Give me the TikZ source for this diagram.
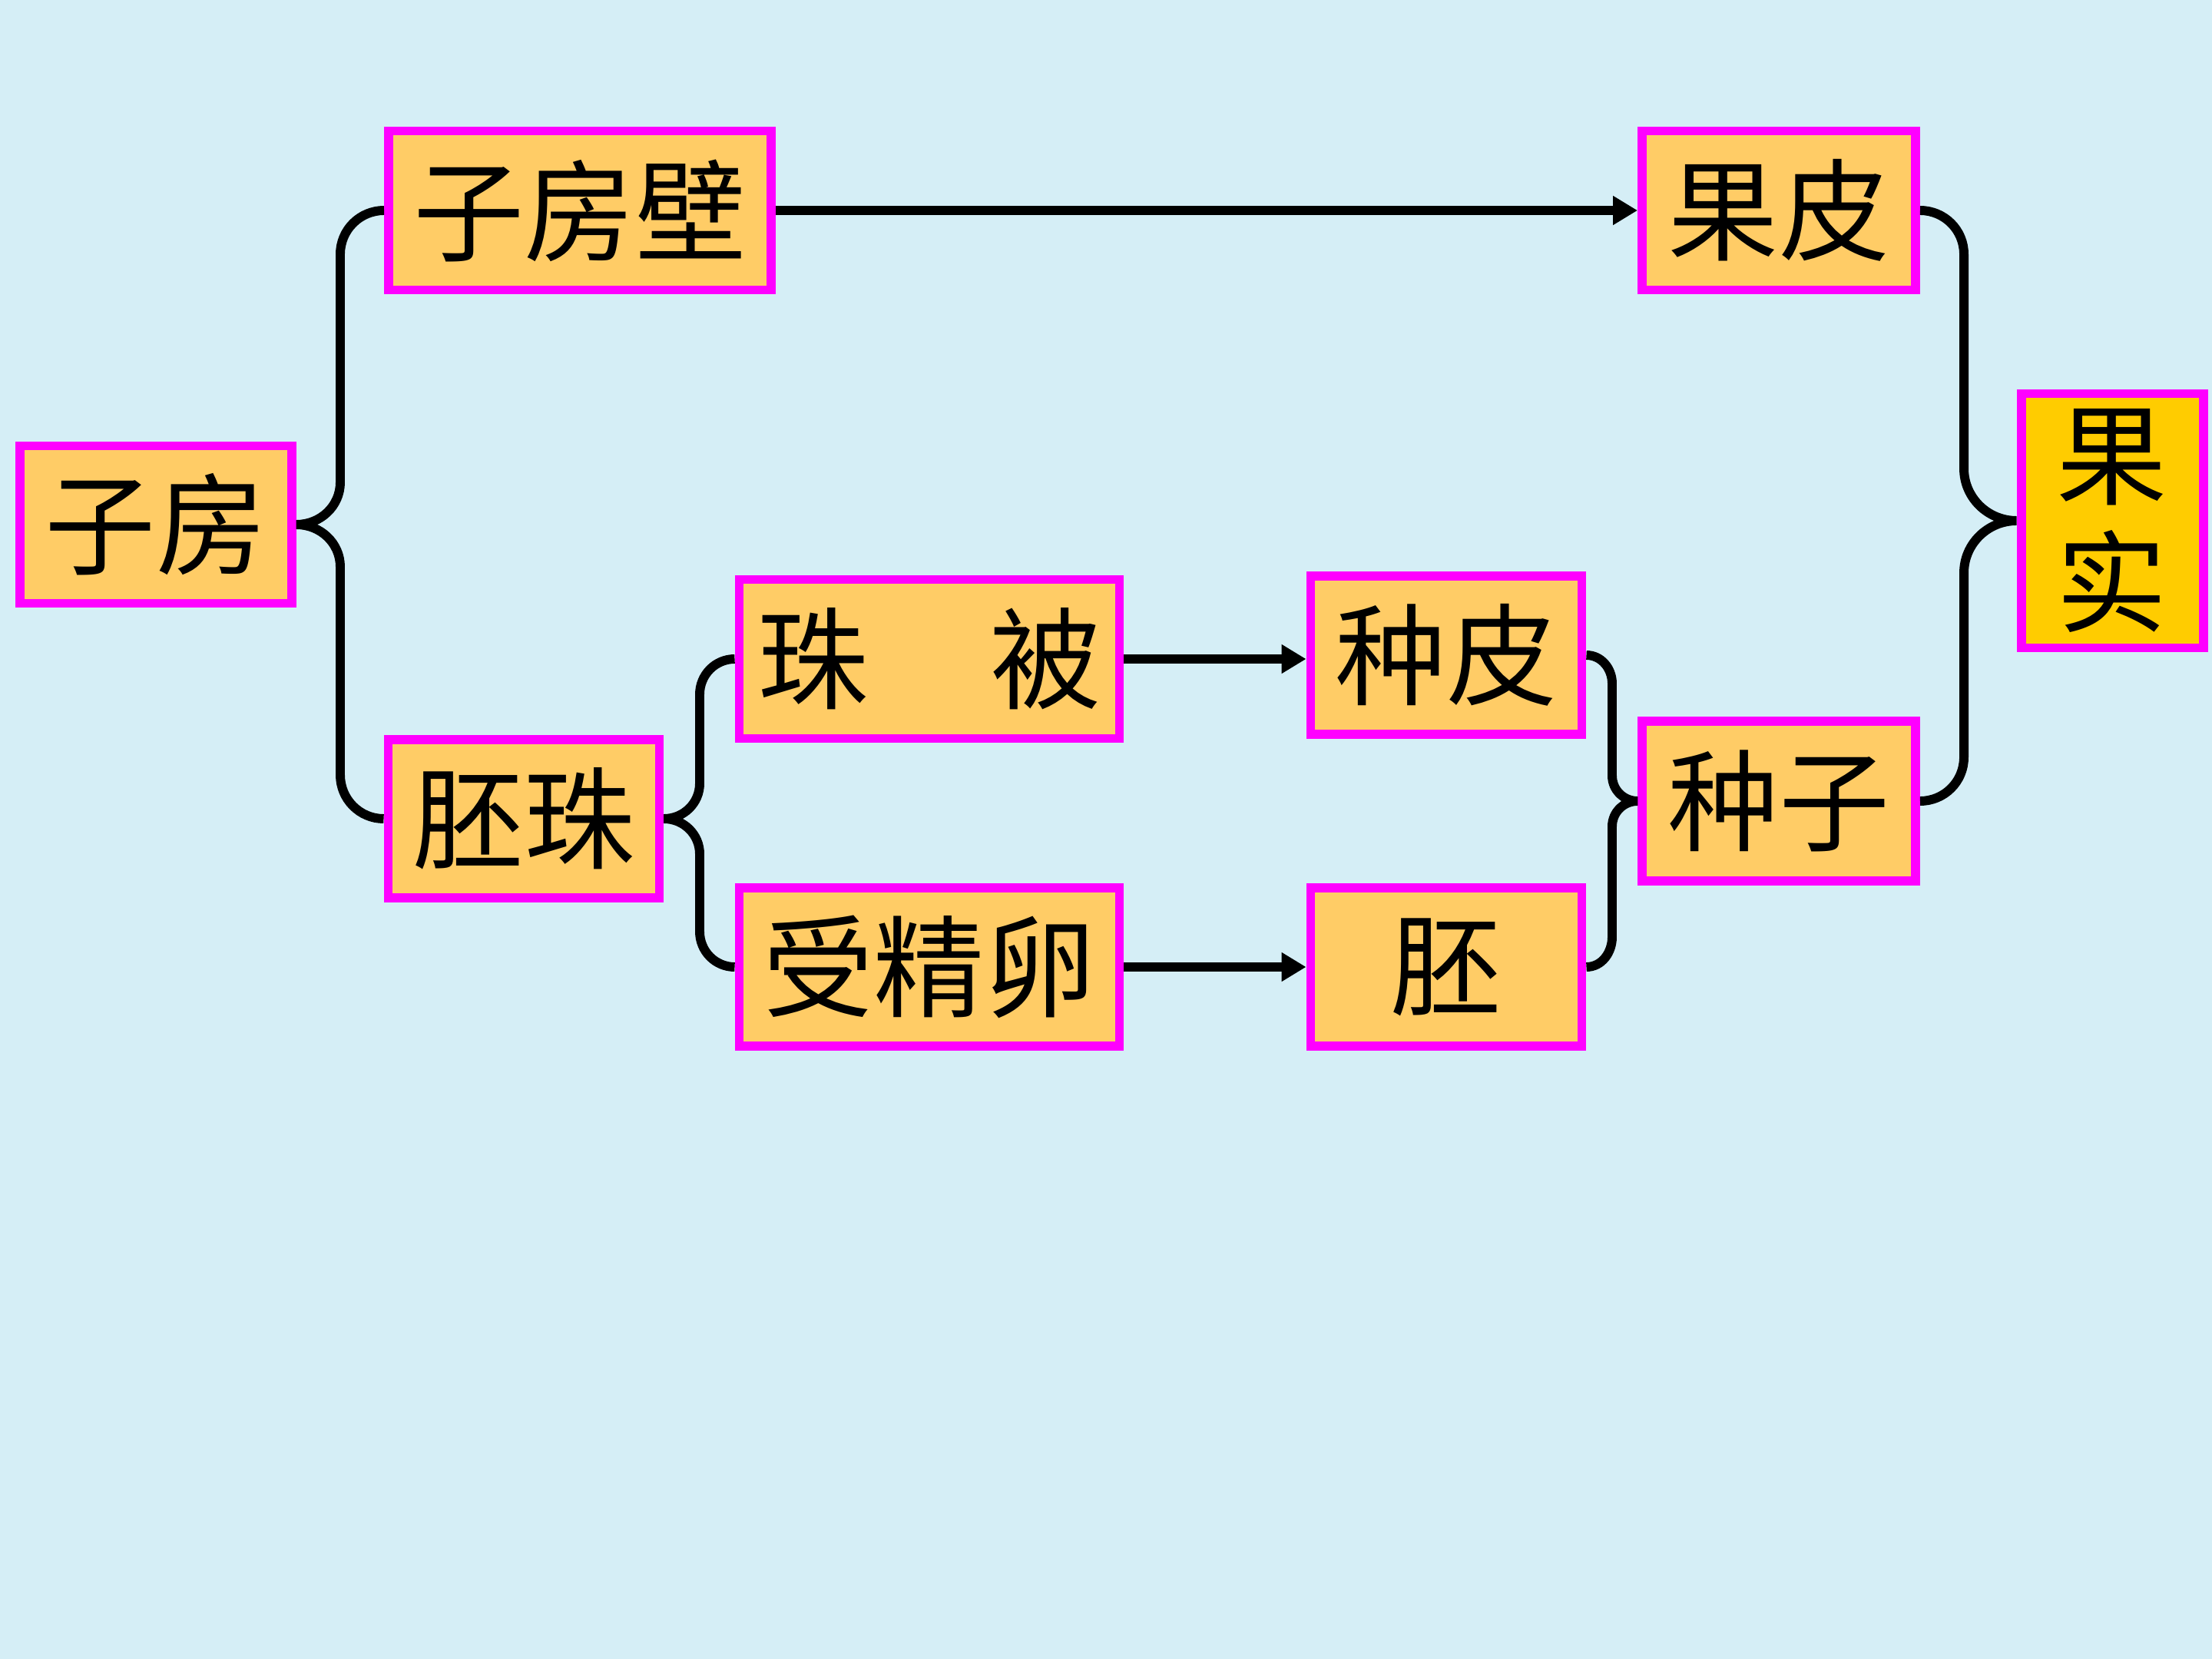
\documentclass[tikz,border=0pt]{standalone}
\usepackage{fontspec}
\setmainfont{Noto Sans CJK SC}
\usetikzlibrary{arrows.meta}
\definecolor{bg}{HTML}{D5EEF6}
\definecolor{boxfill}{HTML}{FFCC66}
\definecolor{boxfill2}{HTML}{FFCC00}
\definecolor{mag}{HTML}{FF00FF}
\tikzset{
  box/.style={draw=mag, line width=3.4pt, fill=boxfill, inner sep=0pt,
    font=\fontsize{41}{47}\selectfont, align=center},
  con/.style={draw=black, line width=3.4pt},
  arr/.style={con, -{Triangle[length=0.32cm,width=0.36cm]}}
}
\begin{document}
\begin{tikzpicture}
\fill[bg] (0,0) rectangle (28.8,-21.6);
\useasboundingbox (0,0) rectangle (28.8,-21.6);

\node[box, minimum width=3.54cm, minimum height=2.05cm] (zf) at (2.03,-6.83) {子房};
\node[box, minimum width=4.98cm, minimum height=2.07cm] (zfb) at (7.55,-2.74) {子房壁};
\node[box, minimum width=3.53cm, minimum height=2.06cm] (pz) at (6.82,-10.66) {胚珠};
\node[box, minimum width=4.95cm, minimum height=2.07cm] (zb) at (12.10,-8.58) {珠\hspace{1.1em}被};
\node[box, minimum width=4.95cm, minimum height=2.06cm] (sjl) at (12.10,-12.59) {受精卵};
\node[box, minimum width=3.53cm, minimum height=2.06cm] (zp) at (18.83,-8.53) {种皮};
\node[box, minimum width=3.53cm, minimum height=2.06cm] (pei) at (18.83,-12.59) {胚};
\node[box, minimum width=3.56cm, minimum height=2.07cm] (gp) at (23.16,-2.74) {果皮};
\node[box, minimum width=3.56cm, minimum height=2.08cm] (zz) at (23.16,-10.43) {种子};
\node[box, fill=boxfill2, minimum width=2.37cm, minimum height=3.31cm] (gs) at (27.50,-6.78) {果\\实};

% braces
\draw[con] (zfb.west) to[out=180,in=90] (4.43,-3.31) -- (4.43,-6.28)
  to[out=-90,in=0] (zf.east) to[out=0,in=90] (4.43,-7.38) -- (4.43,-10.09)
  to[out=-90,in=180] (pz.west);
\draw[con] (zb.west) to[out=180,in=90] (9.11,-9.04) -- (9.11,-10.2)
  to[out=-90,in=0] (pz.east) to[out=0,in=90] (9.11,-11.12) -- (9.11,-12.13)
  to[out=-90,in=180] (sjl.west);
\draw[con] (zp.east) to[out=0,in=90] (20.99,-8.9) -- (20.99,-10.1)
  to[out=-90,in=180] (zz.west) to[out=180,in=90] (20.99,-10.76) -- (20.99,-12.2)
  to[out=-90,in=0] (pei.east);
\draw[con] (gp.east) to[out=0,in=90] (25.57,-3.31) -- (25.57,-6.1)
  to[out=-90,in=180] (gs.west) to[out=180,in=90] (25.57,-7.46) -- (25.57,-9.86)
  to[out=-90,in=0] (zz.east);

% arrows
\draw[arr] (zfb.east) -- (zfb.east -| gp.west);
\draw[arr] (zb.east) -- (zb.east -| zp.west);
\draw[arr] (sjl.east) -- (sjl.east -| pei.west);
\end{tikzpicture}
\end{document}
